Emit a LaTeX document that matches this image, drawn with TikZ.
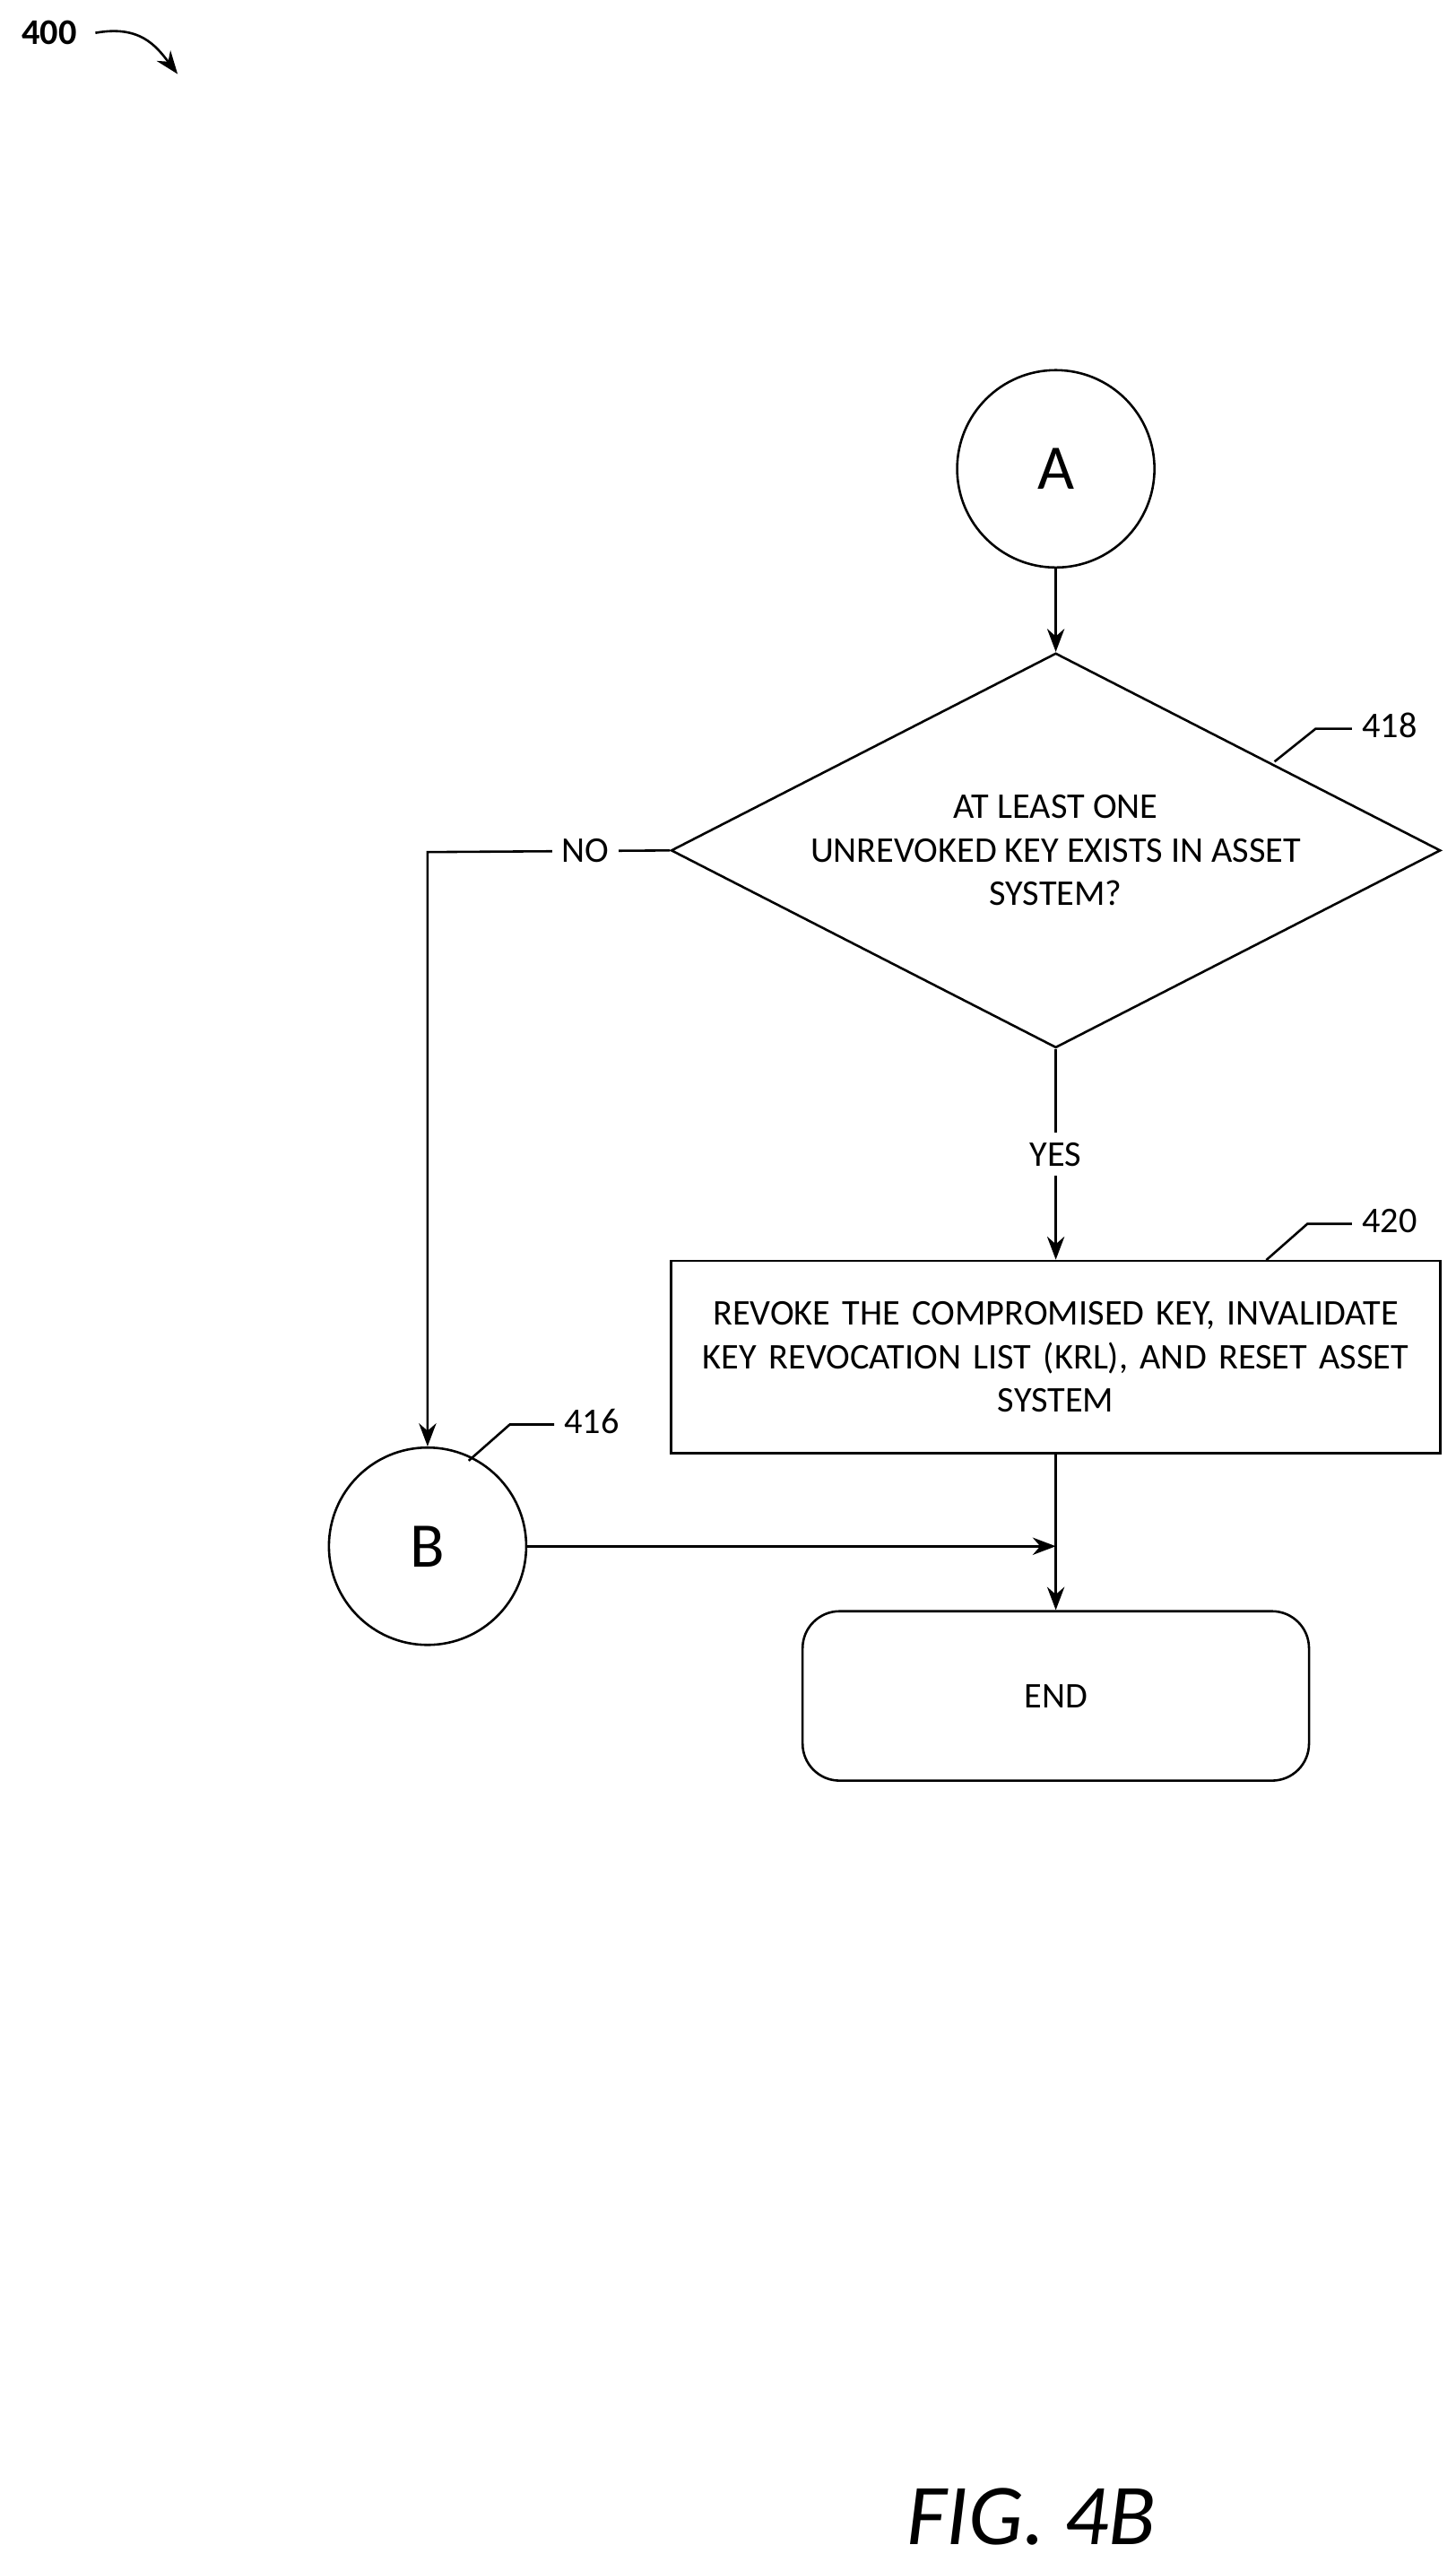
\documentclass[tikz,border=0pt]{standalone}
\usepackage{fontspec}
\setmainfont{Carlito}
\usetikzlibrary{shapes.geometric,arrows.meta}
\begin{document}
\begin{tikzpicture}[x=0.02cm,y=-0.02cm,
conn/.style={circle, draw, thick, minimum size=2.4cm, inner sep=0pt, font=\fontsize{22}{26}\selectfont},
decision/.style={diamond, draw, thick, aspect=1.95, minimum width=9.36cm, minimum height=4.8cm, inner sep=0pt, align=center, font=\fontsize{12.5}{15}\selectfont},
process/.style={rectangle, draw, thick, minimum width=9.36cm, minimum height=2.34cm, align=center, text width=8.8cm, font=\fontsize{12.5}{15}\selectfont},
terminal/.style={rectangle, rounded corners=0.45cm, draw, thick, minimum width=6.16cm, minimum height=2.06cm, font=\fontsize{12.5}{15}\selectfont},
flow/.style={thick, -{Stealth[length=8pt,width=6pt]}},
refnum/.style={font=\fontsize{12.5}{15}\selectfont},
]
\useasboundingbox (0,0) rectangle (885,1563);

\node (fig) [font=\bfseries\fontsize{12.5}{15}\selectfont] at (30,20) {400};
\draw [flow] (58,20) .. controls (85,15) and (95,28) .. (108,45);

\node (A) [conn] at (642,285) {A};
\node (q418) [decision] at (642,517) {AT LEAST ONE\\UNREVOKED KEY EXISTS IN ASSET\\SYSTEM?};
\node (s420) [process] at (642,825) {REVOKE THE COMPROMISED KEY, INVALIDATE\\KEY REVOCATION LIST (KRL), AND RESET ASSET\\SYSTEM};
\node (B) [conn] at (260,940) {B};
\node (end) [terminal] at (642,1031) {END};
\coordinate (turn) at (260,518);

\draw [flow] (A) -- (q418);
\draw [flow] (q418) -- node [fill=white, font=\fontsize{12.5}{15}\selectfont] {YES} (s420);
\draw [flow] (q418.west) -- node [fill=white, font=\fontsize{12.5}{15}\selectfont, pos=0.35] {NO} (turn) -- (B);
\draw [flow] (B) -- (B -| s420);
\draw [flow] (s420) -- (end);

% reference numerals
\node (n418) [refnum, anchor=west] at (822,441) {418};
\draw [thick] (775,463) -- (800,443) -- (822,443);
\node (n420) [refnum, anchor=west] at (822,742) {420};
\draw [thick] (770,766) -- (795,744) -- (822,744);
\node (n416) [refnum, anchor=west] at (337,864) {416};
\draw [thick] (285,888) -- (310,866) -- (337,866);

\node (cap) [font=\itshape\fontsize{30}{34}\selectfont] at (627,1530) {FIG. 4B};
\end{tikzpicture}
\end{document}
